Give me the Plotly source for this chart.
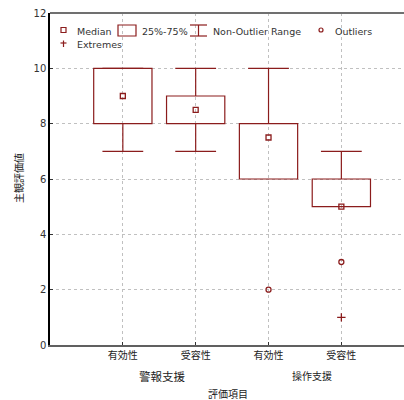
import plotly.graph_objects as go

# ---- data ----
categories = ["有効性", "受容性", "有効性", "受容性"]
groups = ["警報支援", "操作支援"]
medians = [9.0, 8.5, 7.5, 5.0]
q1 = [8.0, 8.0, 6.0, 5.0]
q3 = [10.0, 9.0, 8.0, 6.0]
whisk_low = [7.0, 7.0, 6.0, 5.0]
whisk_high = [10.0, 10.0, 10.0, 7.0]
outlier_x = [2, 3]
outlier_y = [2.0, 3.0]
extreme_x = [3]
extreme_y = [1.0]
y_ticks = [0, 2, 4, 6, 8, 10, 12]

COL = "#8b1c1c"
FONT = "DejaVu Sans, Noto Sans CJK JP, sans-serif"
CJK = "Noto Sans CJK JP, sans-serif"

W, H = 404, 400
ML, MR, MT, MB = 50, 0, 13, 55
pw, ph = W - ML - MR, H - MT - MB

def px(x):
    return (x - ML) / pw

def py(y):
    return (H - MB - y) / ph

xs = list(range(len(categories)))
box_half = 0.40
cap_half = 0.28
LW = 1.2

fig = go.Figure()
shapes = []

# boxes and whiskers from data
for i in xs:
    shapes.append(dict(type="rect", xref="x", yref="y", x0=i - box_half, x1=i + box_half,
                       y0=q1[i], y1=q3[i], line=dict(color=COL, width=LW), fillcolor="rgba(0,0,0,0)"))
    if whisk_high[i] > q3[i]:
        shapes.append(dict(type="line", xref="x", yref="y", x0=i, x1=i, y0=q3[i], y1=whisk_high[i],
                           line=dict(color=COL, width=LW)))
    shapes.append(dict(type="line", xref="x", yref="y", x0=i - cap_half, x1=i + cap_half,
                       y0=whisk_high[i], y1=whisk_high[i], line=dict(color=COL, width=LW)))
    if whisk_low[i] < q1[i]:
        shapes.append(dict(type="line", xref="x", yref="y", x0=i, x1=i, y0=whisk_low[i], y1=q1[i],
                           line=dict(color=COL, width=LW)))
        shapes.append(dict(type="line", xref="x", yref="y", x0=i - cap_half, x1=i + cap_half,
                           y0=whisk_low[i], y1=whisk_low[i], line=dict(color=COL, width=LW)))

# medians
fig.add_trace(go.Scatter(x=xs, y=medians, mode="markers", showlegend=False,
                         marker=dict(symbol="square-open", size=5, color=COL, line=dict(width=1.3)),
                         cliponaxis=False))
# outliers
fig.add_trace(go.Scatter(x=outlier_x, y=outlier_y, mode="markers", showlegend=False,
                         marker=dict(symbol="circle-open", size=5, color=COL, line=dict(width=1.3))))
# extremes
fig.add_trace(go.Scatter(x=extreme_x, y=extreme_y, mode="markers", showlegend=False,
                         marker=dict(symbol="cross-thin-open", size=6, color=COL, line=dict(width=1.3))))

# top frame line at y=12
shapes.append(dict(type="line", xref="paper", yref="paper", x0=0, x1=1, y0=1, y1=1,
                   line=dict(color="#707070", width=2)))

# ---- custom legend (paper coords from pixel positions) ----
lc = dict(color=COL, width=1.2)
shapes.append(dict(type="rect", xref="paper", yref="paper", x0=px(61), x1=px(66), y0=py(32.5), y1=py(27.5), line=lc))
shapes.append(dict(type="rect", xref="paper", yref="paper", x0=px(118), x1=px(136), y0=py(36), y1=py(25), line=lc))
shapes.append(dict(type="line", xref="paper", yref="paper", x0=px(190), x1=px(207), y0=py(25), y1=py(25), line=lc))
shapes.append(dict(type="line", xref="paper", yref="paper", x0=px(190), x1=px(207), y0=py(36), y1=py(36), line=lc))
shapes.append(dict(type="line", xref="paper", yref="paper", x0=px(198.5), x1=px(198.5), y0=py(25), y1=py(36), line=lc))
shapes.append(dict(type="circle", xref="paper", yref="paper", x0=px(319), x1=px(323), y0=py(32), y1=py(28), line=lc))
shapes.append(dict(type="line", xref="paper", yref="paper", x0=px(60.5), x1=px(66.5), y0=py(43), y1=py(43), line=lc))
shapes.append(dict(type="line", xref="paper", yref="paper", x0=px(63.5), x1=px(63.5), y0=py(40.5), y1=py(47), line=lc))

annotations = []
for txt, x, y in [("Median", 76, 31), ("25%-75%", 141, 31), ("Non-Outlier Range", 212, 31),
                  ("Outliers", 334, 31), ("Extremes", 76, 45)]:
    annotations.append(dict(text=txt, xref="paper", yref="paper", x=px(x), y=py(y), xanchor="left",
                            yanchor="middle", showarrow=False, borderpad=0,
                            font=dict(family=FONT, size=9.5, color="#333")))

# group labels
annotations.append(dict(text=groups[0], xref="paper", yref="paper", x=px(162), y=py(376), xanchor="center",
                        yanchor="middle", showarrow=False, font=dict(family=CJK, size=11.5, color="#222")))
annotations.append(dict(text=groups[1], xref="paper", yref="paper", x=px(312), y=py(375), xanchor="center",
                        yanchor="middle", showarrow=False, font=dict(family=CJK, size=10, color="#222")))
annotations.append(dict(text="評価項目", xref="paper", yref="paper", x=px(228), y=py(393), xanchor="center",
                        yanchor="middle", showarrow=False, borderpad=0,
                        font=dict(family=CJK, size=10, color="#222")))
annotations.append(dict(text="主観評価値", xref="paper", yref="paper", x=px(18), y=py(178), xanchor="center",
                        yanchor="middle", textangle=-90, showarrow=False,
                        font=dict(family=CJK, size=10, color="#222")))

fig.update_layout(
    width=W, height=H, margin=dict(l=ML, r=MR, t=MT, b=MB, pad=0),
    paper_bgcolor="white", plot_bgcolor="white",
    shapes=shapes, annotations=annotations, showlegend=False,
    xaxis=dict(range=[-1.0, 3.86], tickvals=xs, ticktext=categories, showgrid=True,
               gridcolor="#c0c0c0", griddash="dot", gridwidth=1, zeroline=False,
               showline=True, linecolor="#606060", linewidth=2, ticks="inside", ticklen=3,
               tickcolor="#333", tickfont=dict(family=CJK, size=10, color="#222")),
    yaxis=dict(range=[0, 12], tickvals=y_ticks, showgrid=True, gridcolor="#c0c0c0", griddash="dot",
               gridwidth=1, zeroline=False, showline=True, linecolor="black", linewidth=1.5,
               ticks="inside", ticklen=3, tickcolor="#333",
               tickfont=dict(family=FONT, size=10, color="#333")),
)

fig.write_html("out.html", config={"displayModeBar": False},
               post_script="document.body.style.margin='0';document.body.style.overflow='hidden';")
